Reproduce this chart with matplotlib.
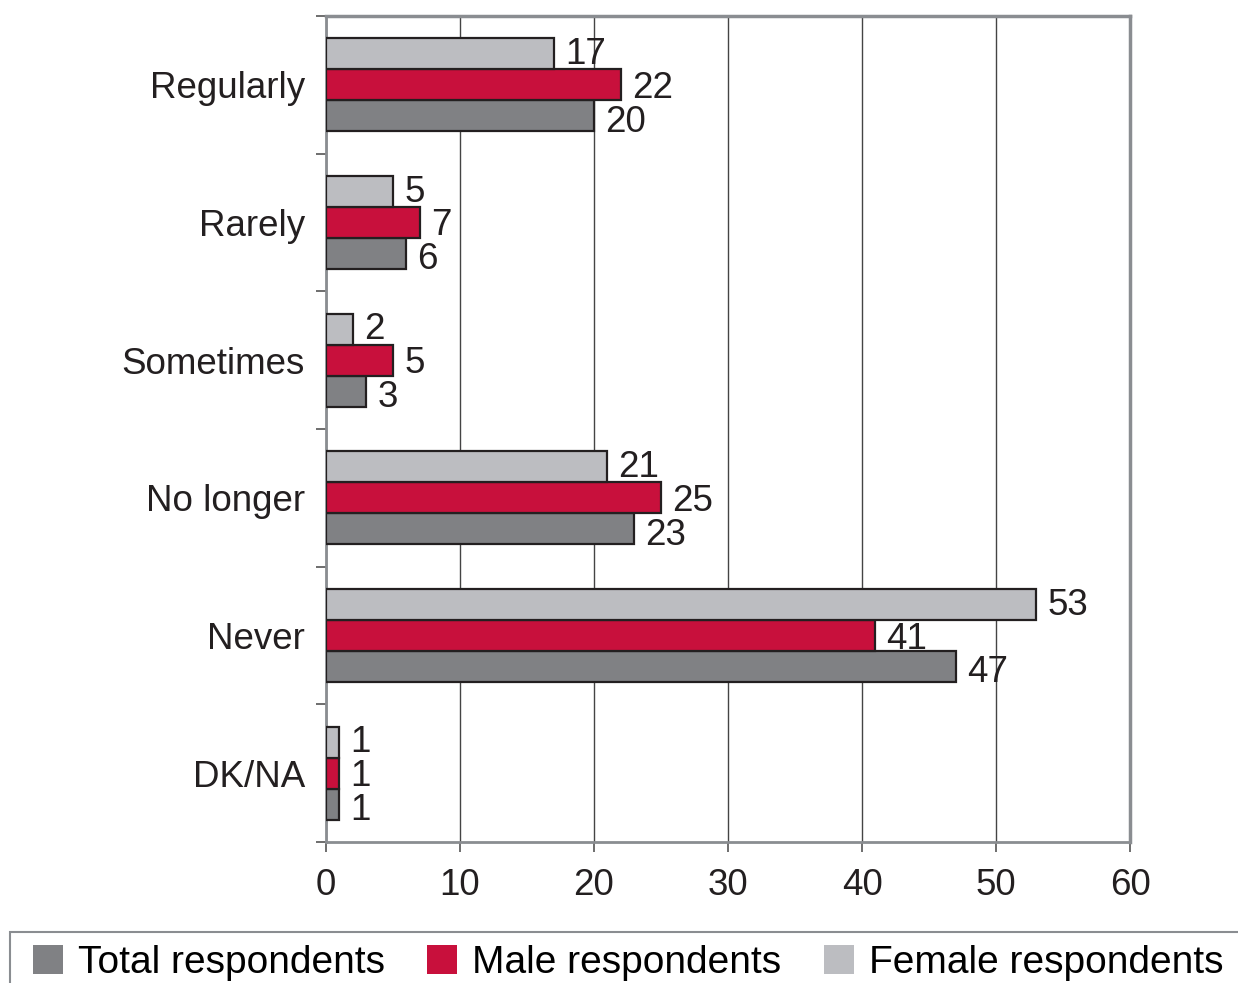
import numpy as np
import matplotlib.pyplot as plt
from matplotlib.patches import Rectangle

plt.rcParams['font.family'] = ['Liberation Sans', 'DejaVu Sans']

categories = ['Regularly', 'Rarely', 'Sometimes', 'No longer', 'Never', 'DK/NA']
total = [20, 6, 3, 23, 47, 1]
male = [22, 7, 5, 25, 41, 1]
female = [17, 5, 2, 21, 53, 1]

series_names = ['Total respondents', 'Male respondents', 'Female respondents']
colors = ['#808184', '#c8103c', '#bcbdc1']
edge = '#231f20'

fig = plt.figure(figsize=(12.38, 9.83), dpi=100)
ax = fig.add_axes([0.2633, 0.1434, 0.6495, 0.8403])

y = np.arange(len(categories))
h = 0.225

# female on top, total at the bottom of each group; labels spread a little
groups = [(total, h, -4.5), (male, 0.0, -2.5), (female, -h, -0.5)]
bars = []
for (vals, off, dy), name, col in zip(groups, series_names, colors):
    b = ax.barh(y + off, vals, height=h, color=col, edgecolor=edge,
                linewidth=1.6, label=name, zorder=3)
    bars.append(b)
    for yy, v in zip(y + off, vals):
        ax.annotate(str(v), (v, yy), xytext=(8, dy), textcoords='offset points',
                    va='center', ha='left', fontsize=26.5, color='#231f20',
                    zorder=4)

ax.set_xlim(0, 60)
ax.set_ylim(len(categories) - 0.5, -0.5)
ax.set_xticks(range(0, 61, 10))
ax.tick_params(axis='x', labelsize=26.5, length=7, width=1.2, color='#555555',
               pad=12, labelcolor='#231f20')
ax.xaxis.grid(True, color='#444444', linewidth=1.0, zorder=0)

ax.set_yticks(y)
ax.set_yticklabels(categories, fontsize=26.5, color='#231f20')
ax.set_yticks(np.arange(-0.5, len(categories) + 0.5, 1), minor=True)
ax.tick_params(axis='y', which='major', length=0, pad=15)
ax.tick_params(axis='y', which='minor', length=7, width=1.2, color='#555555')

for side in ['top', 'right']:
    ax.spines[side].set_color('#8a8d91')
    ax.spines[side].set_linewidth(2.5)
for side in ['left', 'bottom']:
    ax.spines[side].set_color('#8a8d91')
    ax.spines[side].set_linewidth(2.0)

# legend with a frame running off the figure edge
frame = Rectangle((10 / 1238, -0.05), 1.1, (983 - 932) / 983 + 0.05,
                  transform=fig.transFigure, fill=False, edgecolor='#8a8d91',
                  linewidth=1.5, clip_on=False)
fig.patches.append(frame)
fig.legend(handles=bars, labels=series_names, loc='lower left',
           bbox_to_anchor=(6 / 1238, -0.026), ncol=3, frameon=False,
           fontsize=28, handlelength=0.77, handleheight=0.77,
           handletextpad=0.39, columnspacing=1.08, borderpad=0.2)
for p in fig.legends[0].get_patches():
    p.set_edgecolor('none')

fig.savefig('out.png', dpi=100)
